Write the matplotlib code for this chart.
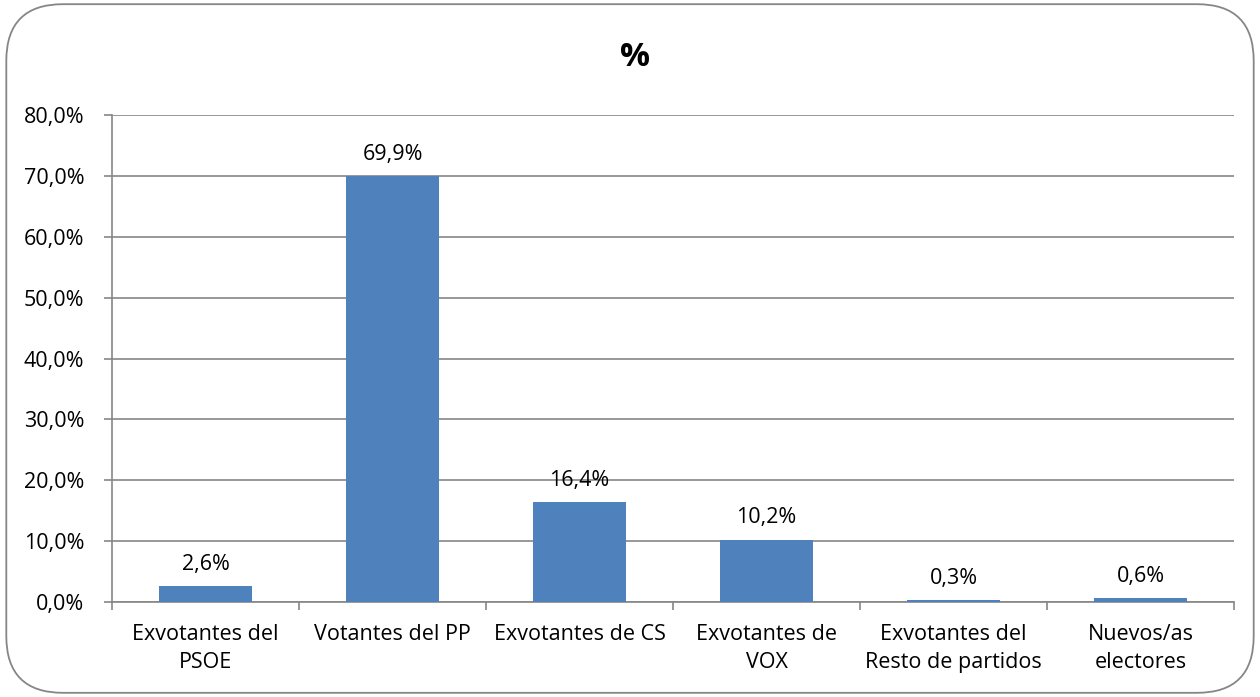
import matplotlib.pyplot as plt
import numpy as np
from matplotlib.patches import FancyBboxPatch

categorias = ["Exvotantes del\nPSOE", "Votantes del PP", "Exvotantes de CS",
              "Exvotantes de\nVOX", "Exvotantes del\nResto de partidos", "Nuevos/as\nelectores"]
valores = [2.6, 69.9, 16.4, 10.2, 0.3, 0.6]
etiquetas = ["2,6%", "69,9%", "16,4%", "10,2%", "0,3%", "0,6%"]
yticks = [0, 10, 20, 30, 40, 50, 60, 70, 80]

plt.rcParams['font.family'] = ['Open Sans', 'DejaVu Sans']
gris = '#868686'
fs = 15.5

fig = plt.figure(figsize=(12.6, 6.97), dpi=100)
ax = fig.add_axes([0.0889, 0.1363, 0.8905, 0.6987])

x = np.arange(len(categorias))
ax.bar(x, valores, width=0.5, color='#4F81BD', zorder=3)
for xi, v, t in zip(x, valores, etiquetas):
    ax.text(xi, v + 1.9, t, ha='center', va='bottom', fontsize=fs, color='black')

ax.set_xlim(-0.5, len(categorias) - 0.5)
ax.set_ylim(0, 80)
ax.set_yticks(yticks)
ax.set_yticklabels([f"{t:.1f}%".replace('.', ',') for t in yticks], fontsize=fs)
ax.yaxis.grid(True, color=gris, linewidth=1.2, zorder=0)
ax.tick_params(axis='y', length=6, color=gris, width=1.2, pad=14)

ax.set_xticks(x)
ax.set_xticklabels(categorias, fontsize=fs, linespacing=1.45)
ax.set_xticks(np.arange(len(categorias) + 1) - 0.5, minor=True)
ax.tick_params(axis='x', which='major', length=0, pad=16)
ax.tick_params(axis='x', which='minor', length=6, color=gris, width=1.2)

for s in ['top', 'right']:
    ax.spines[s].set_visible(False)
for s in ['left', 'bottom']:
    ax.spines[s].set_color(gris)
    ax.spines[s].set_linewidth(1.2)

fig.text(0.504, 0.918, "%", ha='center', va='center', fontsize=24, fontweight='bold')

borde = FancyBboxPatch((0.005, 0.006), 0.99, 0.988, boxstyle="round,pad=0,rounding_size=0.045",
                       transform=fig.transFigure, facecolor='none', edgecolor=gris,
                       linewidth=1.3, mutation_aspect=1260 / 697)
fig.patches.append(borde)

fig.savefig("out.png", dpi=100)
